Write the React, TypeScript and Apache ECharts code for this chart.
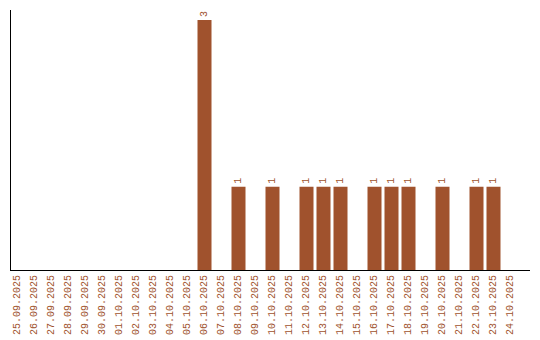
import React, { useEffect, useRef } from "react";
import * as echarts from "echarts";

const categories: string[] = [
  "25.09.2025", "26.09.2025", "27.09.2025", "28.09.2025", "29.09.2025", "30.09.2025",
  "01.10.2025", "02.10.2025", "03.10.2025", "04.10.2025", "05.10.2025", "06.10.2025",
  "07.10.2025", "08.10.2025", "09.10.2025", "10.10.2025", "11.10.2025", "12.10.2025",
  "13.10.2025", "14.10.2025", "15.10.2025", "16.10.2025", "17.10.2025", "18.10.2025",
  "19.10.2025", "20.10.2025", "21.10.2025", "22.10.2025", "23.10.2025", "24.10.2025",
];

const counts: (number | null)[] = [
  null, null, null, null, null, null,
  null, null, null, null, null, 3,
  null, 1, null, 1, null, 1,
  1, 1, null, 1, 1, 1,
  null, 1, null, 1, 1, null,
];

const COLOR = "#A0522D";

export default function App() {
  const ref = useRef<HTMLDivElement>(null);
  useEffect(() => {
    if (!ref.current) return;
    const chart = echarts.init(ref.current, undefined, { renderer: "svg" });
    chart.setOption({
      animation: false,
      grid: { left: 9, top: 10, width: 510, height: 260, containLabel: false },
      xAxis: {
        type: "category",
        data: categories,
        boundaryGap: true,
        axisLine: { show: false },
        axisTick: { show: false },
        axisLabel: {
          rotate: 90,
          interval: 0,
          margin: 5,
          color: COLOR,
          fontFamily: "Liberation Mono",
          fontSize: 10,
        },
      },
      yAxis: {
        type: "value",
        min: 0,
        max: 3.12,
        axisLine: { show: false },
        axisTick: { show: false },
        axisLabel: { show: false },
        splitLine: { show: false },
      },
      series: [
        {
          type: "bar",
          data: counts,
          barWidth: 14,
          itemStyle: { color: COLOR },
          label: {
            show: true,
            position: "top",
            rotate: 90,
            align: "left",
            verticalAlign: "middle",
            distance: 3,
            color: COLOR,
            fontFamily: "Liberation Mono",
            fontSize: 10,
          },
        },
      ],
      graphic: [
        { type: "line", shape: { x1: 10.5, y1: 10, x2: 10.5, y2: 271 }, style: { stroke: "#000", lineWidth: 1 } },
        { type: "line", shape: { x1: 10, y1: 270.5, x2: 530, y2: 270.5 }, style: { stroke: "#000", lineWidth: 1 } },
      ],
    });
    return () => chart.dispose();
  }, []);
  return <div ref={ref} style={{ width: 540, height: 340, position: "absolute", left: 0, top: 0, background: "#fff" }} />;
}
